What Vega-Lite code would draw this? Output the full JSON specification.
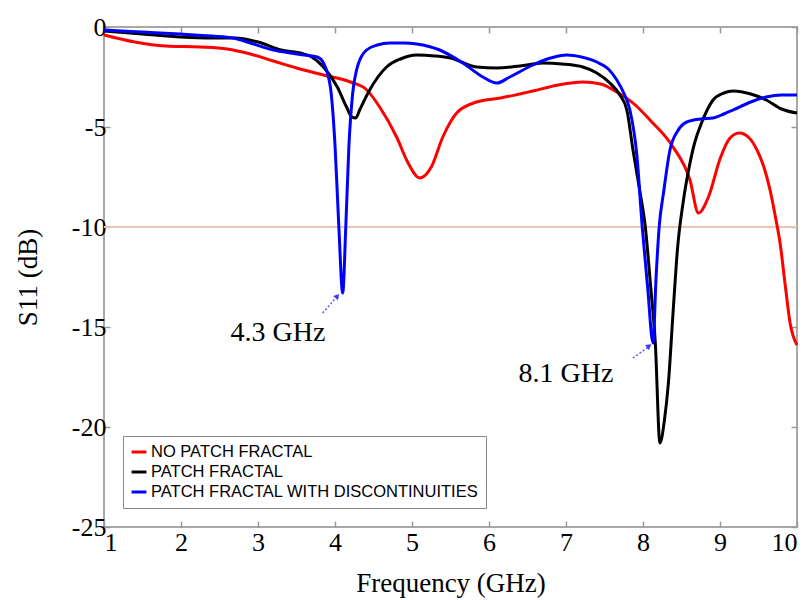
{
  "$schema": "https://vega.github.io/schema/vega-lite/v6.json",
  "autosize": {"type": "none"},
  "padding": {"left": 104, "top": 27, "right": 15, "bottom": 73},
  "width": 693,
  "height": 500,
  "background": "white",
  "config": {
    "view": {"stroke": "#a8a8a8", "strokeWidth": 2},
    "axis": {
      "grid": false,
      "domain": false,
      "tickColor": "#999999",
      "tickSize": -6,
      "tickWidth": 1.5,
      "labelFont": "Liberation Serif",
      "labelFontSize": 26,
      "labelColor": "#000000",
      "labelExpr": "'' + datum.value",
      "titleFont": "Liberation Serif",
      "titleFontSize": 27,
      "titleFontWeight": "normal",
      "titleColor": "#000000"
    }
  },
  "datasets": {
    "curves": [
      {"series": "NO PATCH FRACTAL", "f": 1.0, "s": -0.4},
      {"series": "NO PATCH FRACTAL", "f": 1.4, "s": -0.75},
      {"series": "NO PATCH FRACTAL", "f": 1.8, "s": -0.95},
      {"series": "NO PATCH FRACTAL", "f": 2.25, "s": -1.0},
      {"series": "NO PATCH FRACTAL", "f": 2.6, "s": -1.1},
      {"series": "NO PATCH FRACTAL", "f": 2.9, "s": -1.35},
      {"series": "NO PATCH FRACTAL", "f": 3.2, "s": -1.7},
      {"series": "NO PATCH FRACTAL", "f": 3.5, "s": -2.05},
      {"series": "NO PATCH FRACTAL", "f": 3.85, "s": -2.4},
      {"series": "NO PATCH FRACTAL", "f": 4.2, "s": -2.75},
      {"series": "NO PATCH FRACTAL", "f": 4.4, "s": -3.1},
      {"series": "NO PATCH FRACTAL", "f": 4.58, "s": -4.0},
      {"series": "NO PATCH FRACTAL", "f": 4.8, "s": -5.5},
      {"series": "NO PATCH FRACTAL", "f": 4.95, "s": -6.8},
      {"series": "NO PATCH FRACTAL", "f": 5.1, "s": -7.55},
      {"series": "NO PATCH FRACTAL", "f": 5.25, "s": -7.0},
      {"series": "NO PATCH FRACTAL", "f": 5.4, "s": -5.5},
      {"series": "NO PATCH FRACTAL", "f": 5.58, "s": -4.3},
      {"series": "NO PATCH FRACTAL", "f": 5.84, "s": -3.75},
      {"series": "NO PATCH FRACTAL", "f": 6.15, "s": -3.55},
      {"series": "NO PATCH FRACTAL", "f": 6.57, "s": -3.2},
      {"series": "NO PATCH FRACTAL", "f": 6.9, "s": -2.9},
      {"series": "NO PATCH FRACTAL", "f": 7.22, "s": -2.75},
      {"series": "NO PATCH FRACTAL", "f": 7.45, "s": -2.85},
      {"series": "NO PATCH FRACTAL", "f": 7.66, "s": -3.25},
      {"series": "NO PATCH FRACTAL", "f": 7.9, "s": -3.9},
      {"series": "NO PATCH FRACTAL", "f": 8.09, "s": -4.65},
      {"series": "NO PATCH FRACTAL", "f": 8.39, "s": -6.0},
      {"series": "NO PATCH FRACTAL", "f": 8.61, "s": -7.65},
      {"series": "NO PATCH FRACTAL", "f": 8.72, "s": -9.3},
      {"series": "NO PATCH FRACTAL", "f": 8.85, "s": -8.5},
      {"series": "NO PATCH FRACTAL", "f": 9.0, "s": -6.6},
      {"series": "NO PATCH FRACTAL", "f": 9.12, "s": -5.6},
      {"series": "NO PATCH FRACTAL", "f": 9.25, "s": -5.3},
      {"series": "NO PATCH FRACTAL", "f": 9.38, "s": -5.55},
      {"series": "NO PATCH FRACTAL", "f": 9.48, "s": -6.15},
      {"series": "NO PATCH FRACTAL", "f": 9.57, "s": -7.0},
      {"series": "NO PATCH FRACTAL", "f": 9.65, "s": -8.15},
      {"series": "NO PATCH FRACTAL", "f": 9.72, "s": -9.5},
      {"series": "NO PATCH FRACTAL", "f": 9.78, "s": -10.8},
      {"series": "NO PATCH FRACTAL", "f": 9.85, "s": -13.0},
      {"series": "NO PATCH FRACTAL", "f": 9.91, "s": -14.8},
      {"series": "NO PATCH FRACTAL", "f": 10.0, "s": -15.9},

      {"series": "PATCH FRACTAL", "f": 1.0, "s": -0.2},
      {"series": "PATCH FRACTAL", "f": 1.5, "s": -0.35},
      {"series": "PATCH FRACTAL", "f": 2.0, "s": -0.5},
      {"series": "PATCH FRACTAL", "f": 2.4, "s": -0.55},
      {"series": "PATCH FRACTAL", "f": 2.7, "s": -0.55},
      {"series": "PATCH FRACTAL", "f": 3.0, "s": -0.75},
      {"series": "PATCH FRACTAL", "f": 3.3, "s": -1.15},
      {"series": "PATCH FRACTAL", "f": 3.55, "s": -1.3},
      {"series": "PATCH FRACTAL", "f": 3.7, "s": -1.5},
      {"series": "PATCH FRACTAL", "f": 3.85, "s": -2.0},
      {"series": "PATCH FRACTAL", "f": 4.03, "s": -3.0},
      {"series": "PATCH FRACTAL", "f": 4.15, "s": -4.0},
      {"series": "PATCH FRACTAL", "f": 4.22, "s": -4.5},
      {"series": "PATCH FRACTAL", "f": 4.27, "s": -4.55},
      {"series": "PATCH FRACTAL", "f": 4.32, "s": -4.15},
      {"series": "PATCH FRACTAL", "f": 4.45, "s": -3.15},
      {"series": "PATCH FRACTAL", "f": 4.67, "s": -2.0},
      {"series": "PATCH FRACTAL", "f": 4.85, "s": -1.6},
      {"series": "PATCH FRACTAL", "f": 5.06, "s": -1.4},
      {"series": "PATCH FRACTAL", "f": 5.3, "s": -1.45},
      {"series": "PATCH FRACTAL", "f": 5.5, "s": -1.55},
      {"series": "PATCH FRACTAL", "f": 5.84, "s": -2.0},
      {"series": "PATCH FRACTAL", "f": 6.1, "s": -2.05},
      {"series": "PATCH FRACTAL", "f": 6.4, "s": -1.95},
      {"series": "PATCH FRACTAL", "f": 6.7, "s": -1.8},
      {"series": "PATCH FRACTAL", "f": 6.95, "s": -1.85},
      {"series": "PATCH FRACTAL", "f": 7.22, "s": -2.0},
      {"series": "PATCH FRACTAL", "f": 7.4, "s": -2.3},
      {"series": "PATCH FRACTAL", "f": 7.57, "s": -2.8},
      {"series": "PATCH FRACTAL", "f": 7.7, "s": -3.4},
      {"series": "PATCH FRACTAL", "f": 7.79, "s": -4.15},
      {"series": "PATCH FRACTAL", "f": 7.87, "s": -6.15},
      {"series": "PATCH FRACTAL", "f": 7.95, "s": -8.0},
      {"series": "PATCH FRACTAL", "f": 8.03, "s": -10.0},
      {"series": "PATCH FRACTAL", "f": 8.1, "s": -13.0},
      {"series": "PATCH FRACTAL", "f": 8.16, "s": -15.8},
      {"series": "PATCH FRACTAL", "f": 8.22, "s": -20.8},
      {"series": "PATCH FRACTAL", "f": 8.28, "s": -19.6},
      {"series": "PATCH FRACTAL", "f": 8.33, "s": -17.8},
      {"series": "PATCH FRACTAL", "f": 8.39, "s": -14.3},
      {"series": "PATCH FRACTAL", "f": 8.45, "s": -11.0},
      {"series": "PATCH FRACTAL", "f": 8.52, "s": -8.8},
      {"series": "PATCH FRACTAL", "f": 8.6, "s": -7.0},
      {"series": "PATCH FRACTAL", "f": 8.67, "s": -5.8},
      {"series": "PATCH FRACTAL", "f": 8.76, "s": -4.8},
      {"series": "PATCH FRACTAL", "f": 8.91, "s": -3.65},
      {"series": "PATCH FRACTAL", "f": 9.05, "s": -3.3},
      {"series": "PATCH FRACTAL", "f": 9.17, "s": -3.2},
      {"series": "PATCH FRACTAL", "f": 9.4, "s": -3.35},
      {"series": "PATCH FRACTAL", "f": 9.6, "s": -3.65},
      {"series": "PATCH FRACTAL", "f": 9.8, "s": -4.1},
      {"series": "PATCH FRACTAL", "f": 10.0, "s": -4.3},

      {"series": "PATCH FRACTAL WITH DISCONTINUITIES", "f": 1.0, "s": -0.15},
      {"series": "PATCH FRACTAL WITH DISCONTINUITIES", "f": 1.5, "s": -0.25},
      {"series": "PATCH FRACTAL WITH DISCONTINUITIES", "f": 1.99, "s": -0.35},
      {"series": "PATCH FRACTAL WITH DISCONTINUITIES", "f": 2.4, "s": -0.45},
      {"series": "PATCH FRACTAL WITH DISCONTINUITIES", "f": 2.68, "s": -0.55},
      {"series": "PATCH FRACTAL WITH DISCONTINUITIES", "f": 2.9, "s": -0.8},
      {"series": "PATCH FRACTAL WITH DISCONTINUITIES", "f": 3.2, "s": -1.15},
      {"series": "PATCH FRACTAL WITH DISCONTINUITIES", "f": 3.42, "s": -1.3},
      {"series": "PATCH FRACTAL WITH DISCONTINUITIES", "f": 3.6, "s": -1.4},
      {"series": "PATCH FRACTAL WITH DISCONTINUITIES", "f": 3.77, "s": -1.5},
      {"series": "PATCH FRACTAL WITH DISCONTINUITIES", "f": 3.85, "s": -1.8},
      {"series": "PATCH FRACTAL WITH DISCONTINUITIES", "f": 3.94, "s": -3.0},
      {"series": "PATCH FRACTAL WITH DISCONTINUITIES", "f": 4.0, "s": -5.9},
      {"series": "PATCH FRACTAL WITH DISCONTINUITIES", "f": 4.05, "s": -10.0},
      {"series": "PATCH FRACTAL WITH DISCONTINUITIES", "f": 4.1, "s": -13.3},
      {"series": "PATCH FRACTAL WITH DISCONTINUITIES", "f": 4.14, "s": -10.0},
      {"series": "PATCH FRACTAL WITH DISCONTINUITIES", "f": 4.18, "s": -6.0},
      {"series": "PATCH FRACTAL WITH DISCONTINUITIES", "f": 4.23, "s": -3.3},
      {"series": "PATCH FRACTAL WITH DISCONTINUITIES", "f": 4.28, "s": -2.15},
      {"series": "PATCH FRACTAL WITH DISCONTINUITIES", "f": 4.41, "s": -1.15},
      {"series": "PATCH FRACTAL WITH DISCONTINUITIES", "f": 4.55, "s": -0.9},
      {"series": "PATCH FRACTAL WITH DISCONTINUITIES", "f": 4.71, "s": -0.8},
      {"series": "PATCH FRACTAL WITH DISCONTINUITIES", "f": 4.9, "s": -0.8},
      {"series": "PATCH FRACTAL WITH DISCONTINUITIES", "f": 5.06, "s": -0.85},
      {"series": "PATCH FRACTAL WITH DISCONTINUITIES", "f": 5.36, "s": -1.15},
      {"series": "PATCH FRACTAL WITH DISCONTINUITIES", "f": 5.66, "s": -1.8},
      {"series": "PATCH FRACTAL WITH DISCONTINUITIES", "f": 5.92, "s": -2.5},
      {"series": "PATCH FRACTAL WITH DISCONTINUITIES", "f": 6.1, "s": -2.8},
      {"series": "PATCH FRACTAL WITH DISCONTINUITIES", "f": 6.27, "s": -2.5},
      {"series": "PATCH FRACTAL WITH DISCONTINUITIES", "f": 6.57, "s": -1.9},
      {"series": "PATCH FRACTAL WITH DISCONTINUITIES", "f": 6.8, "s": -1.55},
      {"series": "PATCH FRACTAL WITH DISCONTINUITIES", "f": 7.01, "s": -1.4},
      {"series": "PATCH FRACTAL WITH DISCONTINUITIES", "f": 7.2, "s": -1.5},
      {"series": "PATCH FRACTAL WITH DISCONTINUITIES", "f": 7.4, "s": -1.75},
      {"series": "PATCH FRACTAL WITH DISCONTINUITIES", "f": 7.55, "s": -2.1},
      {"series": "PATCH FRACTAL WITH DISCONTINUITIES", "f": 7.66, "s": -2.65},
      {"series": "PATCH FRACTAL WITH DISCONTINUITIES", "f": 7.75, "s": -3.3},
      {"series": "PATCH FRACTAL WITH DISCONTINUITIES", "f": 7.83, "s": -4.15},
      {"series": "PATCH FRACTAL WITH DISCONTINUITIES", "f": 7.92, "s": -6.4},
      {"series": "PATCH FRACTAL WITH DISCONTINUITIES", "f": 7.99, "s": -10.0},
      {"series": "PATCH FRACTAL WITH DISCONTINUITIES", "f": 8.06, "s": -13.0},
      {"series": "PATCH FRACTAL WITH DISCONTINUITIES", "f": 8.13, "s": -15.8},
      {"series": "PATCH FRACTAL WITH DISCONTINUITIES", "f": 8.17, "s": -12.5},
      {"series": "PATCH FRACTAL WITH DISCONTINUITIES", "f": 8.21, "s": -10.0},
      {"series": "PATCH FRACTAL WITH DISCONTINUITIES", "f": 8.27, "s": -8.2},
      {"series": "PATCH FRACTAL WITH DISCONTINUITIES", "f": 8.35, "s": -6.15},
      {"series": "PATCH FRACTAL WITH DISCONTINUITIES", "f": 8.45, "s": -5.2},
      {"series": "PATCH FRACTAL WITH DISCONTINUITIES", "f": 8.57, "s": -4.75},
      {"series": "PATCH FRACTAL WITH DISCONTINUITIES", "f": 8.75, "s": -4.6},
      {"series": "PATCH FRACTAL WITH DISCONTINUITIES", "f": 8.91, "s": -4.55},
      {"series": "PATCH FRACTAL WITH DISCONTINUITIES", "f": 9.05, "s": -4.35},
      {"series": "PATCH FRACTAL WITH DISCONTINUITIES", "f": 9.17, "s": -4.15},
      {"series": "PATCH FRACTAL WITH DISCONTINUITIES", "f": 9.4, "s": -3.75},
      {"series": "PATCH FRACTAL WITH DISCONTINUITIES", "f": 9.6, "s": -3.5},
      {"series": "PATCH FRACTAL WITH DISCONTINUITIES", "f": 9.8, "s": -3.4},
      {"series": "PATCH FRACTAL WITH DISCONTINUITIES", "f": 10.0, "s": -3.4}
    ],
    "threshold": [
      {"f": 1, "s": -10},
      {"f": 10, "s": -10}
    ],
    "arrows": [
      {"arrow": "a1", "f": 3.84, "s": -14.3},
      {"arrow": "a1", "f": 4.02, "s": -13.5},
      {"arrow": "a2", "f": 7.87, "s": -16.55},
      {"arrow": "a2", "f": 8.07, "s": -16.0}
    ],
    "heads": [
      {"f": 4.03, "s": -13.45, "angle": 40},
      {"f": 8.08, "s": -15.95, "angle": 53}
    ],
    "labels": [
      {"label": "4.3 GHz", "f": 3.26, "s": -15.3},
      {"label": "8.1 GHz", "f": 7.0, "s": -17.35}
    ]
  },
  "layer": [
    {
      "data": {"name": "threshold"},
      "mark": {"type": "line", "color": "#f0c4b4", "strokeWidth": 2},
      "encoding": {
        "x": {"field": "f", "type": "quantitative", "scale": {"domain": [1, 10], "nice": false, "zero": false},
              "axis": {"orient": "top", "values": [1,2,3,4,5,6,7,8,9,10], "labels": false, "title": null}},
        "y": {"field": "s", "type": "quantitative", "scale": {"domain": [-25, 0], "nice": false, "zero": false},
              "axis": {"orient": "right", "values": [-25,-20,-15,-10,-5,0], "labels": false, "title": null}}
      }
    },
    {
      "data": {"name": "curves"},
      "mark": {"type": "line", "strokeWidth": 3, "interpolate": "monotone"},
      "encoding": {
        "x": {"field": "f", "type": "quantitative", "scale": {"domain": [1, 10], "nice": false, "zero": false},
              "axis": {"orient": "bottom", "values": [1,2,3,4,5,6,7,8,9,10], "labelPadding": 8, "title": "Frequency (GHz)", "titleY": 64, "titleBaseline": "alphabetic"}},
        "y": {"field": "s", "type": "quantitative", "scale": {"domain": [-25, 0], "nice": false, "zero": false},
              "axis": {"orient": "left", "values": [-25,-20,-15,-10,-5,0], "labelPadding": 4, "title": "S11 (dB)", "titleX": -76, "titleY": 250, "titleAngle": -90, "titleAlign": "center", "titleBaseline": "middle"}},
        "color": {"field": "series", "type": "nominal",
                  "scale": {"domain": ["NO PATCH FRACTAL", "PATCH FRACTAL", "PATCH FRACTAL WITH DISCONTINUITIES"], "range": ["#ff0000", "#000000", "#0000ff"]},
                  "legend": {"title": null, "orient": "none", "legendX": 19, "legendY": 409,
                             "strokeColor": "#888888", "fillColor": "#ffffff", "padding": 7,
                             "labelFont": "Liberation Sans", "labelFontSize": 16.5, "labelColor": "#000000", "labelOffset": 3, "labelLimit": 0,
                             "symbolType": "stroke", "symbolStrokeWidth": 3, "symbolSize": 220, "rowPadding": 2}},
        "detail": {"field": "series"}
      }
    },
    {
      "data": {"name": "arrows"},
      "mark": {"type": "line", "color": "#5a5aff", "strokeWidth": 1.5, "strokeDash": [2, 2]},
      "encoding": {
        "x": {"field": "f", "type": "quantitative", "axis": null},
        "y": {"field": "s", "type": "quantitative", "axis": null},
        "detail": {"field": "arrow"}
      }
    },
    {
      "data": {"name": "heads"},
      "mark": {"type": "point", "shape": "triangle-up", "filled": true, "color": "#3a3aff", "size": 40, "opacity": 1},
      "encoding": {
        "x": {"field": "f", "type": "quantitative", "axis": null},
        "y": {"field": "s", "type": "quantitative", "axis": null},
        "angle": {"field": "angle", "type": "quantitative", "scale": null}
      }
    },
    {
      "data": {"name": "labels"},
      "mark": {"type": "text", "font": "Liberation Serif", "fontSize": 28, "color": "#000000", "align": "center", "baseline": "middle"},
      "encoding": {
        "x": {"field": "f", "type": "quantitative", "axis": null},
        "y": {"field": "s", "type": "quantitative", "axis": null},
        "text": {"field": "label"}
      }
    }
  ],
  "resolve": {"axis": {"x": "independent", "y": "independent"}}
}
